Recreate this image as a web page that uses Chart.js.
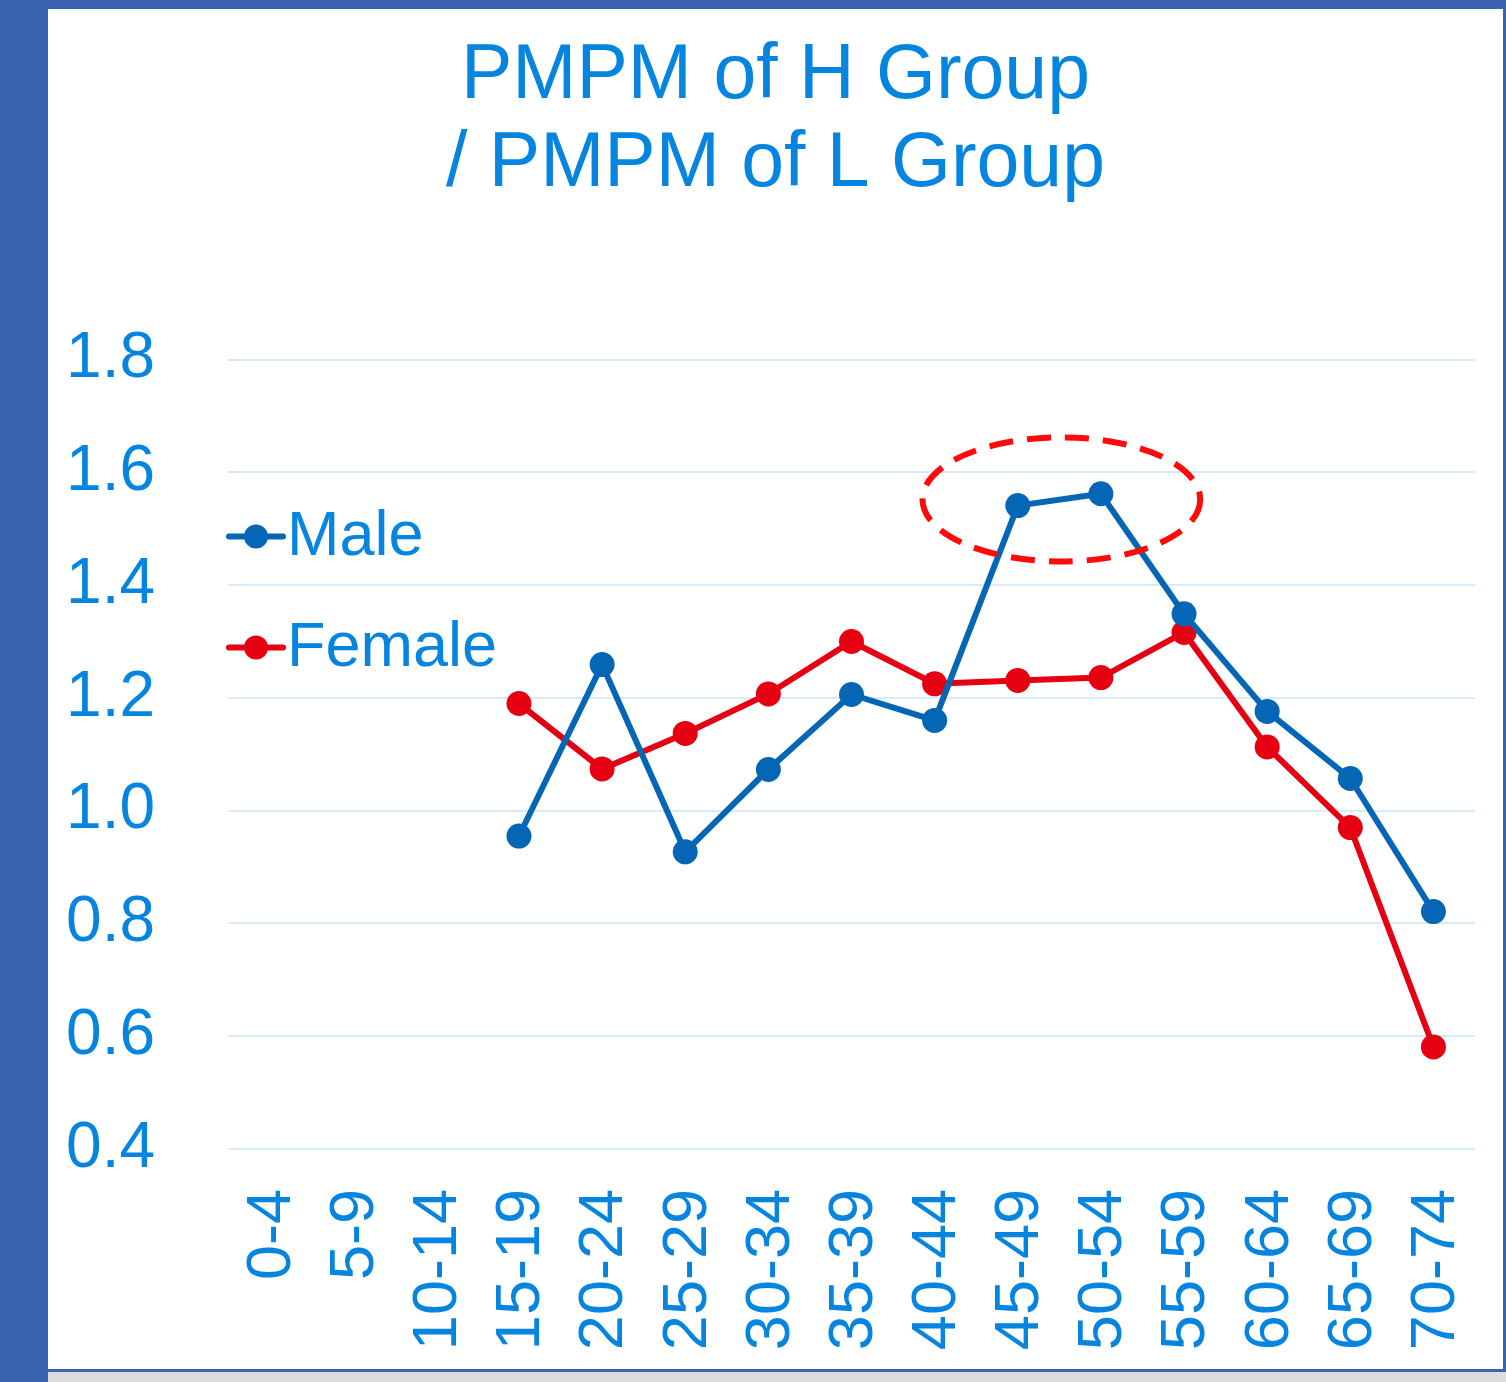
<!DOCTYPE html>
<html>
<head>
<meta charset="utf-8">
<script src="https://cdn.jsdelivr.net/npm/chart.js@4.4.1/dist/chart.umd.min.js"></script>
<style>
    body { margin: 0; width: 1506px; height: 1382px; background: #3a63b1; position: relative; overflow: hidden; }
    #panel { position: absolute; left: 48px; top: 9px; width: 1455px; height: 1360px; background: #fff; }
    #strip { position: absolute; left: 48px; top: 1372px; width: 1458px; height: 10px; background: #dcdcdc; }
    canvas { display: block; }
</style>
</head>
<body>
<div id="panel"><canvas id="chart" width="1455" height="1360"></canvas></div>
<div id="strip"></div>
<script>
const ageGroups = ['0-4', '5-9', '10-14', '15-19', '20-24', '25-29', '30-34', '35-39', '40-44', '45-49', '50-54', '55-59', '60-64', '65-69', '70-74'];
const maleRatio = [null, null, null, 0.955, 1.259, 0.927, 1.073, 1.206, 1.160, 1.541, 1.562, 1.349, 1.176, 1.057, 0.821];
const femaleRatio = [null, null, null, 1.190, 1.074, 1.137, 1.207, 1.300, 1.225, 1.231, 1.236, 1.316, 1.113, 0.970, 0.581];
const titleLines = ['PMPM of H Group', '/ PMPM of L Group'];
// highlighted peak: groups spanned and the value band circled
const highlightGroups = ['45-49', '50-54'];
const highlightValue = 1.552;
const highlightHalfSpan = 0.11;

const textColor = '#0584e0';
const maleColor = '#0666b6';
const femaleColor = '#e50012';
const fontFamily = '"Liberation Sans", Arial, sans-serif';

// legend drawn inside the plot area, left side
const insideLegend = {
    id: 'insideLegend',
    afterDraw(chart) {
        const ctx = chart.ctx;
        const area = chart.chartArea;
        chart.data.datasets.forEach((ds, i) => {
            const y = area.top + 177 + i * 111;
            ctx.save();
            ctx.strokeStyle = ds.borderColor;
            ctx.lineWidth = 6;
            ctx.lineCap = 'round';
            ctx.beginPath();
            ctx.moveTo(area.left + 1, y);
            ctx.lineTo(area.left + 55, y);
            ctx.stroke();
            ctx.fillStyle = ds.borderColor;
            ctx.beginPath();
            ctx.arc(area.left + 28, y, 12, 0, Math.PI * 2);
            ctx.fill();
            ctx.fillStyle = textColor;
            ctx.font = '63px ' + fontFamily;
            ctx.textBaseline = 'middle';
            ctx.textAlign = 'left';
            ctx.fillText(ds.label, area.left + 59, y + 1);
            ctx.restore();
        });
    }
};

const peakEllipse = {
    id: 'peakEllipse',
    afterDatasetsDraw(chart) {
        const x = chart.scales.x;
        const y = chart.scales.y;
        const a = x.getPixelForValue(ageGroups.indexOf(highlightGroups[0]));
        const b = x.getPixelForValue(ageGroups.indexOf(highlightGroups[1]));
        const step = b - a;
        const cx = (a + b) / 2 + 2;
        const cy = y.getPixelForValue(highlightValue);
        const ry = y.getPixelForValue(highlightValue - highlightHalfSpan) - cy;
        const ctx = chart.ctx;
        ctx.save();
        ctx.strokeStyle = '#ff0a0a';
        ctx.lineWidth = 6;
        ctx.setLineDash([24, 14]);
        ctx.beginPath();
        ctx.ellipse(cx, cy, step * 1.67, ry, 0, 0, Math.PI * 2);
        ctx.stroke();
        ctx.restore();
    }
};

const ctx = document.getElementById('chart').getContext('2d');
new Chart(ctx, {
    type: 'line',
    data: {
        labels: ageGroups,
        datasets: [
            {
                label: 'Male',
                data: maleRatio,
                borderColor: maleColor,
                backgroundColor: maleColor,
                borderWidth: 6,
                pointRadius: 12.5,
                pointBorderWidth: 0,
                tension: 0,
            },
            {
                label: 'Female',
                data: femaleRatio,
                borderColor: femaleColor,
                backgroundColor: femaleColor,
                borderWidth: 6,
                pointRadius: 12.5,
                pointBorderWidth: 0,
                tension: 0,
            },
        ],
    },
    options: {
        responsive: false,
        animation: false,
        layout: { padding: 0 },
        plugins: {
            legend: { display: false },
            tooltip: { enabled: false },
            title: {
                display: true,
                text: titleLines,
                color: textColor,
                font: { family: fontFamily, size: 77, weight: 'normal', lineHeight: 1.14 },
                padding: { top: 24, bottom: 151 },
            },
        },
        scales: {
            x: {
                offset: true,
                grid: { display: false, drawTicks: false },
                border: { display: false },
                ticks: {
                    color: textColor,
                    font: { family: fontFamily, size: 63 },
                    minRotation: 90,
                    maxRotation: 90,
                    autoSkip: false,
                    padding: 40,
                    labelOffset: 3,
                },
                afterFit(scale) {
                    scale.height = 220;
                    scale.paddingLeft = 0;
                    scale.paddingRight = 28;
                },
            },
            y: {
                min: 0.4,
                max: 1.8,
                grid: { color: '#d8ebfa', lineWidth: 2, drawTicks: false },
                border: { display: false },
                ticks: {
                    stepSize: 0.2,
                    color: textColor,
                    font: { family: fontFamily, size: 64 },
                    padding: 73,
                    callback: (v) => v.toFixed(1),
                },
                afterFit(scale) { scale.width = 180; },
            },
        },
    },
    plugins: [peakEllipse, insideLegend],
});
</script>
</body>
</html>
